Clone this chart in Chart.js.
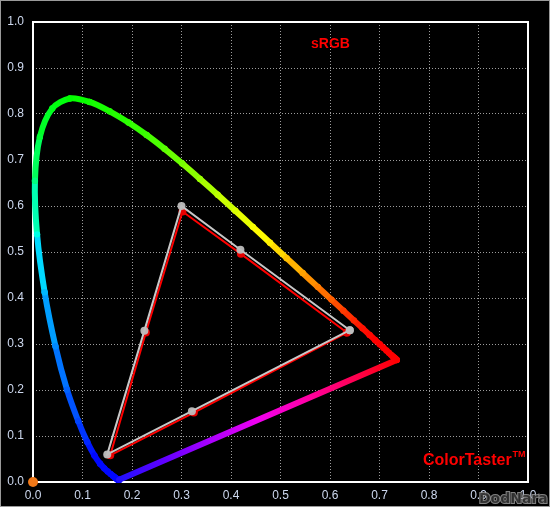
<!DOCTYPE html>
<html>
<head>
<meta charset="utf-8">
<title>sRGB – ColorTaster</title>
<script src="https://cdn.jsdelivr.net/npm/chart.js@4.4.1/dist/chart.umd.min.js"></script>
<style>
  html, body { margin: 0; padding: 0; background: #000; }
  #wrap { width: 550px; height: 507px; position: relative; }
</style>
</head>
<body>
<div id="wrap"><canvas id="cieChart" width="550" height="507"></canvas></div>
<script>
/* CIE 1931 chromaticity – sRGB vs measured gamut */

const wavelengths = [380, 385, 390, 395, 400, 405, 410, 415, 420, 425, 430, 435, 440, 445, 450, 455,
  460, 465, 470, 475, 480, 485, 490, 495, 500, 505, 510, 515, 520, 525, 530, 535, 540, 545, 550,
  555, 560, 565, 570, 575, 580, 585, 590, 595, 600, 605, 610, 615, 620, 625, 630, 635, 640, 645,
  650, 655, 660, 665, 670, 675, 680, 685, 690, 695, 700];
const locusX = [0.1741, 0.1740, 0.1738, 0.1736, 0.1733, 0.1730, 0.1726, 0.1721, 0.1714, 0.1703,
  0.1689, 0.1669, 0.1644, 0.1611, 0.1566, 0.1510, 0.1440, 0.1355, 0.1241, 0.1096, 0.0913, 0.0687,
  0.0454, 0.0235, 0.0082, 0.0039, 0.0139, 0.0389, 0.0743, 0.1142, 0.1547, 0.1929, 0.2296, 0.2658,
  0.3016, 0.3373, 0.3731, 0.4087, 0.4441, 0.4788, 0.5125, 0.5448, 0.5752, 0.6029, 0.6270, 0.6482,
  0.6658, 0.6801, 0.6915, 0.7006, 0.7079, 0.7140, 0.7190, 0.7230, 0.7260, 0.7283, 0.7300, 0.7311,
  0.7320, 0.7327, 0.7334, 0.7340, 0.7344, 0.7346, 0.7347];
const locusY = [0.0050, 0.0050, 0.0049, 0.0049, 0.0048, 0.0048, 0.0048, 0.0048, 0.0051, 0.0058,
  0.0069, 0.0086, 0.0109, 0.0138, 0.0177, 0.0227, 0.0297, 0.0399, 0.0578, 0.0868, 0.1327, 0.2007,
  0.2950, 0.4127, 0.5384, 0.6548, 0.7502, 0.8120, 0.8338, 0.8262, 0.8059, 0.7816, 0.7543, 0.7243,
  0.6923, 0.6589, 0.6245, 0.5896, 0.5547, 0.5202, 0.4866, 0.4544, 0.4242, 0.3965, 0.3725, 0.3514,
  0.3340, 0.3197, 0.3083, 0.2993, 0.2920, 0.2859, 0.2809, 0.2770, 0.2740, 0.2717, 0.2700, 0.2689,
  0.2680, 0.2673, 0.2666, 0.2660, 0.2656, 0.2654, 0.2653];

// R, Y, G, C, B, M, back to R
const gamutLabels = ["R", "Y", "G", "C", "B", "M", "R"];
const srgbX = [0.640, 0.419, 0.300, 0.225, 0.150, 0.321, 0.640];
const srgbY = [0.330, 0.505, 0.600, 0.329, 0.060, 0.154, 0.330];
const measuredX = [0.634, 0.420, 0.302, 0.228, 0.156, 0.325, 0.634];
const measuredY = [0.325, 0.496, 0.588, 0.325, 0.058, 0.151, 0.325];

const originX = [0.0];
const originY = [0.0];

const axisTicks = [0.0, 0.1, 0.2, 0.3, 0.4, 0.5, 0.6, 0.7, 0.8, 0.9, 1.0];

const toPoints = (xs, ys) => xs.map((x, i) => ({ x, y: ys[i] }));

const hueStops = [
  [380, 240], [470, 238], [480, 224], [487, 214], [492, 204], [497, 192], [500, 174],
  [505, 150], [510, 132], [520, 120], [540, 106], [550, 92], [560, 76], [570, 62],
  [575, 56], [580, 46], [590, 30], [600, 14], [610, 4], [620, 0], [700, 0],
];
const hueFor = (wl) => {
  for (let i = 1; i < hueStops.length; i++) {
    const [w0, h0] = hueStops[i - 1];
    const [w1, h1] = hueStops[i];
    if (wl <= w1) return h0 + ((wl - w0) / (w1 - w0)) * (h1 - h0);
  }
  return 0;
};
const wlColor = (wl) => `hsl(${hueFor(wl).toFixed(1)}, 100%, 50%)`;

const purpleGradient = (ctx) => {
  const chart = ctx.chart;
  if (!chart.chartArea) return "#ff00ff";
  const xs = chart.scales.x;
  const ys = chart.scales.y;
  const last = locusX.length - 1;
  const g = chart.ctx.createLinearGradient(
    xs.getPixelForValue(locusX[last]), ys.getPixelForValue(locusY[last]),
    xs.getPixelForValue(locusX[0]), ys.getPixelForValue(locusY[0])
  );
  g.addColorStop(0, "#ff0000");
  g.addColorStop(0.15, "#ff0050");
  g.addColorStop(0.33, "#ff00a8");
  g.addColorStop(0.5, "#f000f0");
  g.addColorStop(0.68, "#a800ff");
  g.addColorStop(0.84, "#6000ff");
  g.addColorStop(1, "#2010ff");
  return g;
};

const frameAndText = {
  id: "frameAndText",
  beforeDraw(chart) {
    const c = chart.ctx;
    c.save();
    c.fillStyle = "#000";
    c.fillRect(0, 0, chart.width, chart.height);
    c.restore();
  },
  beforeDatasetsDraw(chart) {
    const { left, top, right, bottom } = chart.chartArea;
    const c = chart.ctx;
    c.save();
    c.strokeStyle = "#ffffff";
    c.lineWidth = 2;
    c.strokeRect(left, top, right - left, bottom - top);
    c.restore();
  },
  afterDraw(chart) {
    const c = chart.ctx;
    c.save();
    c.fillStyle = "#ff0000";
    c.font = "bold 14px 'Liberation Sans', Arial, sans-serif";
    c.textAlign = "left";
    c.textBaseline = "alphabetic";
    c.fillText("sRGB", 311, 48);

    c.font = "bold 16px 'Liberation Sans', Arial, sans-serif";
    c.fillText("ColorTaster", 423, 465);
    const w = c.measureText("ColorTaster").width;
    c.font = "bold 9px 'Liberation Sans', Arial, sans-serif";
    c.fillText("TM", 423 + w + 1, 457);

    c.font = "bold 14px 'DejaVu Sans', sans-serif";
    c.lineWidth = 2;
    c.strokeStyle = "rgba(150, 150, 150, 0.85)";
    c.fillStyle = "rgba(40, 40, 40, 0.85)";
    c.strokeText("DodNara", 479, 503);
    c.fillText("DodNara", 479, 503);

    c.strokeStyle = "#9a9a9a";
    c.lineWidth = 1;
    c.strokeRect(0.5, 0.5, chart.width - 1, chart.height - 1);
    c.restore();
  },
};

const tickFont = { family: "'Liberation Sans', Arial, sans-serif", size: 12 };

const chartInit = () => {
  const cieCtx = document.getElementById("cieChart");
  new Chart(cieCtx, {
    type: "scatter",
    data: {
      datasets: [
        {
          label: "Origin",
          data: toPoints(originX, originY),
          pointRadius: 5,
          pointBackgroundColor: "#f07818",
          pointBorderWidth: 0,
          clip: false,
          order: 0,
        },
        {
          label: "sRGB",
          data: toPoints(srgbX, srgbY),
          showLine: true,
          borderColor: "#c8c8c8",
          borderWidth: 2,
          pointRadius: 4,
          pointBackgroundColor: "rgba(190, 190, 190, 0.95)",
          pointBorderWidth: 0,
          order: 1,
        },
        {
          label: "Measured",
          data: toPoints(measuredX, measuredY),
          showLine: true,
          borderColor: "#ff0000",
          borderWidth: 2,
          pointRadius: 4,
          pointBackgroundColor: "#e80000",
          pointBorderWidth: 0,
          order: 2,
        },
        {
          label: "Purple line",
          data: [
            { x: locusX[locusX.length - 1], y: locusY[locusY.length - 1] },
            { x: locusX[0], y: locusY[0] },
          ],
          showLine: true,
          borderColor: purpleGradient,
          borderWidth: 6,
          borderCapStyle: "round",
          pointRadius: 0,
          clip: 6,
          order: 3,
        },
        {
          label: "Spectral locus",
          data: toPoints(locusX, locusY),
          showLine: true,
          tension: 0.3,
          borderWidth: 6,
          borderCapStyle: "round",
          borderJoinStyle: "round",
          segment: {
            borderColor: (ctx) => wlColor(wavelengths[ctx.p0DataIndex] + 2.5),
          },
          pointRadius: 3.2,
          pointBorderWidth: 0,
          pointBackgroundColor: (ctx) => wlColor(wavelengths[ctx.dataIndex] || 700),
          clip: 6,
          order: 4,
        },
      ],
    },
    options: {
      responsive: false,
      animation: false,
      events: [],
      layout: { padding: { top: 22, right: 22, left: 0, bottom: 0 } },
      plugins: {
        legend: { display: false },
        tooltip: { enabled: false },
      },
      scales: {
        x: {
          type: "linear",
          min: 0,
          max: 1,
          afterFit: (s) => { s.height = 25; },
          afterBuildTicks: (s) => { s.ticks = axisTicks.map((v) => ({ value: v })); },
          ticks: {
            color: "#cdd8ee",
            font: tickFont,
            padding: 6,
            autoSkip: false,
            maxRotation: 0,
            callback: (v) => Number(v).toFixed(1),
          },
          grid: { color: "#9c9c9c", lineWidth: 1, drawTicks: false },
          border: { display: false, dash: [1, 2] },
        },
        y: {
          type: "linear",
          min: 0,
          max: 1,
          afterFit: (s) => { s.width = 33; },
          afterBuildTicks: (s) => { s.ticks = axisTicks.map((v) => ({ value: v })); },
          ticks: {
            color: "#cdd8ee",
            font: tickFont,
            padding: 9,
            autoSkip: false,
            callback: (v) => Number(v).toFixed(1),
          },
          grid: { color: "#9c9c9c", lineWidth: 1, drawTicks: false },
          border: { display: false, dash: [1, 2] },
        },
      },
    },
    plugins: [frameAndText],
  });
};

document.addEventListener("DOMContentLoaded", chartInit);
</script>
</body>
</html>
